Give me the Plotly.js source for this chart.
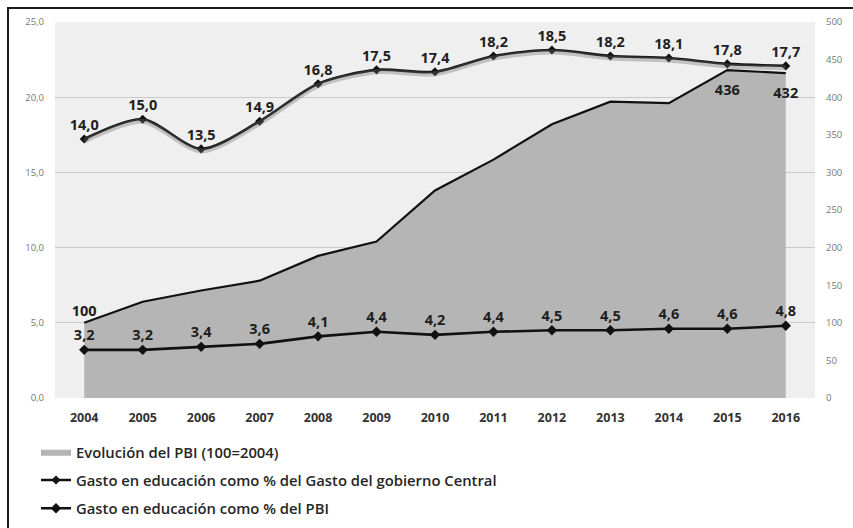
<!DOCTYPE html>
<html>
<head>
<meta charset="utf-8">
<script src="https://cdn.plot.ly/plotly-3.0.1.min.js"></script>
<style>
  html, body { margin: 0; padding: 0; background: #fff; overflow: hidden; }
  #chart { position: absolute; left: 0; top: 0; width: 853px; height: 528px; }
  #frame { position: absolute; left: 7px; top: 7px; width: 900px; height: 600px;
           border: 2px solid #1a1a1a; pointer-events: none; z-index: 10; }
</style>
</head>
<body>
<div id="chart"></div>
<div id="frame"></div>
<script>
// ---- data ----
const years = ['2004','2005','2006','2007','2008','2009','2010','2011','2012','2013','2014','2015','2016'];
// Evolución del PBI (100=2004), right axis
const pbi = [100, 128, 143, 156, 189, 208, 276, 317, 364, 394, 392, 436, 432];
const pbiLabelled = ['2004', '2015', '2016'];
// Gasto en educación como % del Gasto del gobierno Central
const gastoGob = [14.0, 15.0, 13.5, 14.9, 16.8, 17.5, 17.4, 18.2, 18.5, 18.2, 18.1, 17.8, 17.7];
// Gasto en educación como % del PBI
const gastoPbi = [3.2, 3.2, 3.4, 3.6, 4.1, 4.4, 4.2, 4.4, 4.5, 4.5, 4.6, 4.6, 4.8];
const leftTicks = [0, 5, 10, 15, 20, 25];
const rightTicks = [0, 50, 100, 150, 200, 250, 300, 350, 400, 450, 500];

const fmt1 = v => v.toFixed(1).replace('.', ',');
const labelFont = { family: 'Open Sans, sans-serif', size: 14.5, color: '#1e1e1e', weight: 700 };

const traces = [
  {
    name: 'Evolución del PBI (100=2004)',
    legendgroup: 'a',
    x: years, y: pbi, yaxis: 'y',
    type: 'scatter', mode: 'lines',
    fill: 'tozeroy', fillcolor: '#b5b5b5',
    line: { width: 0, color: '#b5b5b5' },
    hoverinfo: 'skip'
  },
  {
    name: 'edge', showlegend: false, legendgroup: 'a',
    x: years, y: pbi, yaxis: 'y',
    type: 'scatter', mode: 'lines+markers+text',
    line: { width: 2.2, color: '#111' },
    marker: { opacity: 0, size: years.map(yr => yr === '2004' ? 4 : 20) },
    text: years.map((yr, i) => pbiLabelled.includes(yr) ? String(pbi[i]) : ''),
    textposition: years.map(yr => yr === '2004' ? 'top center' : 'bottom center'),
    textfont: labelFont,
    hoverinfo: 'skip', cliponaxis: false
  },
  {
    name: 'shadow', showlegend: false, legendgroup: 'b',
    x: years, y: gastoGob, yaxis: 'y4',
    type: 'scatter', mode: 'lines',
    line: { width: 5, color: 'rgba(110,110,110,0.35)', shape: 'spline', smoothing: 0.8 },
    hoverinfo: 'skip'
  },
  {
    name: 'Gasto en educación como % del Gasto del gobierno Central',
    legendgroup: 'b',
    x: years, y: gastoGob, yaxis: 'y3',
    type: 'scatter', mode: 'lines+markers+text',
    line: { width: 2.6, color: '#111', shape: 'spline', smoothing: 0.8 },
    marker: { symbol: 'diamond', size: 7, color: '#111' },
    text: gastoGob.map(fmt1), textposition: 'top center',
    textfont: labelFont,
    hoverinfo: 'skip', cliponaxis: false
  },
  {
    name: 'Gasto en educación como % del PBI',
    legendgroup: 'c',
    x: years, y: gastoPbi, yaxis: 'y2',
    type: 'scatter', mode: 'lines+markers+text',
    line: { width: 2.6, color: '#111' },
    marker: { symbol: 'diamond', size: 8, color: '#111' },
    text: gastoPbi.map(fmt1), textposition: 'top center',
    textfont: labelFont,
    hoverinfo: 'skip', cliponaxis: false
  }
];

const layout = {
  width: 853, height: 528,
  margin: { l: 55, r: 38, t: 22, b: 129.5, autoexpand: false },
  paper_bgcolor: '#ffffff',
  plot_bgcolor: '#efefef',
  showlegend: true,
  legend: {
    x: -0.025, xanchor: 'left', y: -0.1, yanchor: 'top',
    orientation: 'v', tracegroupgap: 6,
    font: { family: 'Open Sans, sans-serif', size: 14.8, color: '#262626', weight: 600 },
    bgcolor: 'rgba(0,0,0,0)', itemwidth: 30
  },
  xaxis: {
    type: 'category', range: [-0.5, 12.5],
    showgrid: false, zeroline: false, showline: false, ticks: '',
    tickfont: { family: 'Open Sans, sans-serif', size: 12.5, color: '#333', weight: 700 },
    ticklabelstandoff: 10, fixedrange: true
  },
  // right axis: PBI index (base, drawn first)
  yaxis: {
    side: 'right', range: [0, 500],
    tickvals: rightTicks, ticktext: rightTicks.map(String),
    showgrid: false, zeroline: false, showline: false, ticks: '',
    tickfont: { family: 'Open Sans, sans-serif', size: 9.5, color: '#777' },
    ticklabelstandoff: 10, fixedrange: true
  },
  // left axis: %
  yaxis2: {
    overlaying: 'y', side: 'left', range: [0, 25],
    tickvals: leftTicks, ticktext: leftTicks.map(fmt1),
    showgrid: true, gridcolor: '#c9c9c9', gridwidth: 1.3,
    zeroline: false, showline: false, ticks: '',
    tickfont: { family: 'Open Sans, sans-serif', size: 9.5, color: '#777' },
    ticklabelstandoff: 10, fixedrange: true
  },
  // hidden axis carrying the gasto/gobierno central series
  yaxis3: {
    overlaying: 'y', side: 'left', range: [0.9, 19.92],
    visible: false, showgrid: false, zeroline: false, fixedrange: true
  },
  // same scale shifted a touch, for the soft shadow under that line
  yaxis4: {
    overlaying: 'y', side: 'left', range: [1.0, 20.02],
    visible: false, showgrid: false, zeroline: false, fixedrange: true
  }
};

Plotly.newPlot('chart', traces, layout, { displayModeBar: false, staticPlot: true });
</script>
</body>
</html>
